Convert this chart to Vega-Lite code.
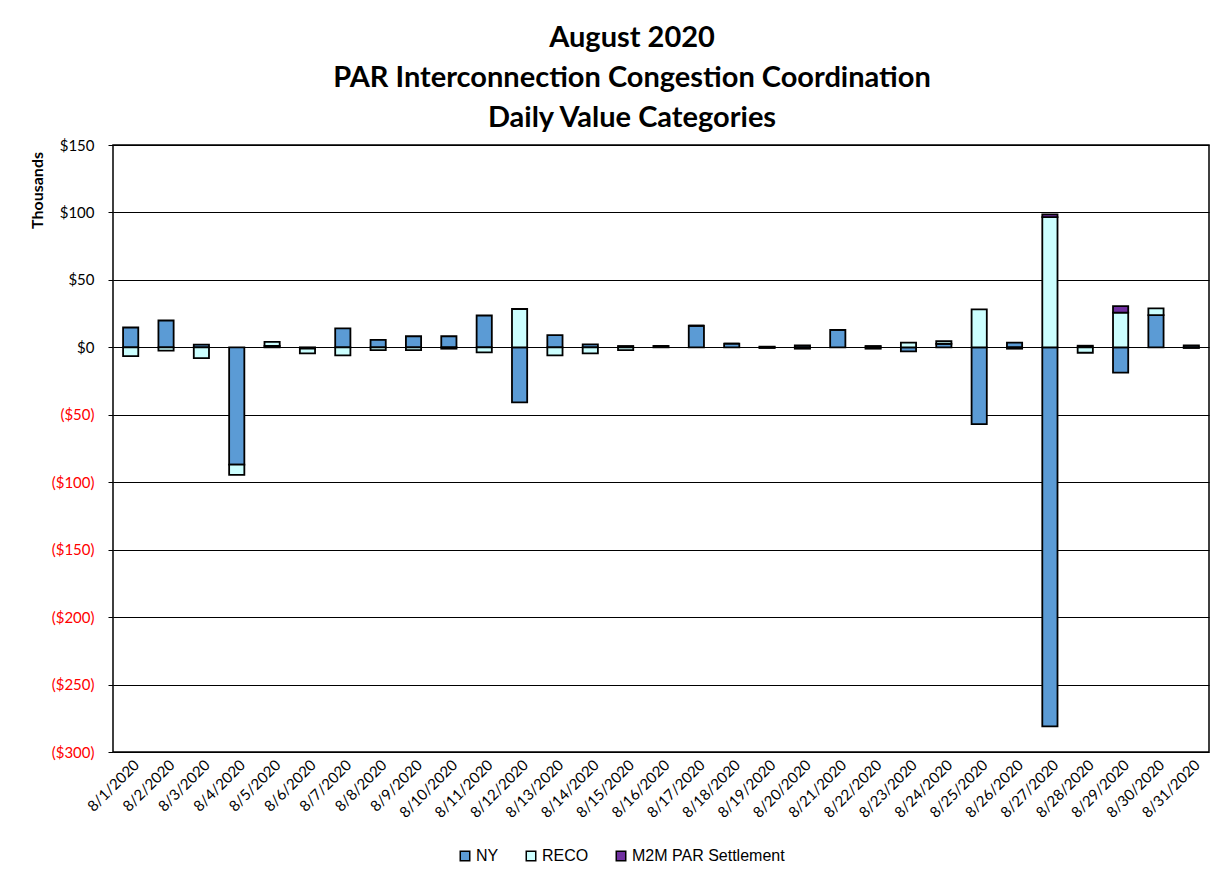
{
  "$schema": "https://vega.github.io/schema/vega-lite/v6.json",
  "autosize": {"type": "none"},
  "width": 1096,
  "height": 607,
  "padding": {"left": 113, "top": 145, "right": 13, "bottom": 126},
  "background": "white",
  "config": {
    "view": {"stroke": "#000", "strokeWidth": 1.5},
    "font": "Lato"
  },
  "title": {
    "text": ["August 2020", "PAR Interconnection Congestion Coordination", "Daily Value Categories"],
    "font": "Lato",
    "fontSize": 29,
    "fontWeight": "bold",
    "color": "#000",
    "lineHeight": 40,
    "anchor": "middle",
    "frame": "group",
    "dx": -29,
    "offset": 5
  },
  "data": {
    "values": [
      {"date": "8/1/2020", "series": "NY", "value": 14.7, "ord": 1},
      {"date": "8/1/2020", "series": "RECO", "value": -6.5, "ord": 2},
      {"date": "8/2/2020", "series": "NY", "value": 19.9, "ord": 1},
      {"date": "8/2/2020", "series": "RECO", "value": -2.5, "ord": 2},
      {"date": "8/3/2020", "series": "NY", "value": 2, "ord": 1},
      {"date": "8/3/2020", "series": "RECO", "value": -8, "ord": 2},
      {"date": "8/4/2020", "series": "NY", "value": -87, "ord": 1},
      {"date": "8/4/2020", "series": "RECO", "value": -7.5, "ord": 2},
      {"date": "8/5/2020", "series": "NY", "value": 1, "ord": 1},
      {"date": "8/5/2020", "series": "RECO", "value": 3, "ord": 2},
      {"date": "8/6/2020", "series": "NY", "value": -1, "ord": 1},
      {"date": "8/6/2020", "series": "RECO", "value": -3.5, "ord": 2},
      {"date": "8/7/2020", "series": "NY", "value": 14, "ord": 1},
      {"date": "8/7/2020", "series": "RECO", "value": -6, "ord": 2},
      {"date": "8/8/2020", "series": "NY", "value": 5.5, "ord": 1},
      {"date": "8/8/2020", "series": "RECO", "value": -2, "ord": 2},
      {"date": "8/9/2020", "series": "NY", "value": 8.2, "ord": 1},
      {"date": "8/9/2020", "series": "RECO", "value": -2, "ord": 2},
      {"date": "8/10/2020", "series": "NY", "value": 8.2, "ord": 1},
      {"date": "8/10/2020", "series": "RECO", "value": -1, "ord": 2},
      {"date": "8/11/2020", "series": "NY", "value": 23.6, "ord": 1},
      {"date": "8/11/2020", "series": "RECO", "value": -3.7, "ord": 2},
      {"date": "8/12/2020", "series": "NY", "value": -40.8, "ord": 1},
      {"date": "8/12/2020", "series": "RECO", "value": 28.4, "ord": 2},
      {"date": "8/13/2020", "series": "NY", "value": 9, "ord": 1},
      {"date": "8/13/2020", "series": "RECO", "value": -6, "ord": 2},
      {"date": "8/14/2020", "series": "NY", "value": 2.2, "ord": 1},
      {"date": "8/14/2020", "series": "RECO", "value": -4.5, "ord": 2},
      {"date": "8/15/2020", "series": "NY", "value": 1, "ord": 1},
      {"date": "8/15/2020", "series": "RECO", "value": -2, "ord": 2},
      {"date": "8/16/2020", "series": "NY", "value": 1, "ord": 1},
      {"date": "8/16/2020", "series": "RECO", "value": 0, "ord": 2},
      {"date": "8/17/2020", "series": "NY", "value": 16, "ord": 1},
      {"date": "8/17/2020", "series": "RECO", "value": 0, "ord": 2},
      {"date": "8/18/2020", "series": "NY", "value": 2.7, "ord": 1},
      {"date": "8/18/2020", "series": "RECO", "value": 0, "ord": 2},
      {"date": "8/19/2020", "series": "NY", "value": 0.5, "ord": 1},
      {"date": "8/19/2020", "series": "RECO", "value": -0.5, "ord": 2},
      {"date": "8/20/2020", "series": "NY", "value": 1.5, "ord": 1},
      {"date": "8/20/2020", "series": "RECO", "value": -1, "ord": 2},
      {"date": "8/21/2020", "series": "NY", "value": 12.9, "ord": 1},
      {"date": "8/21/2020", "series": "RECO", "value": 0, "ord": 2},
      {"date": "8/22/2020", "series": "NY", "value": 1, "ord": 1},
      {"date": "8/22/2020", "series": "RECO", "value": -1, "ord": 2},
      {"date": "8/23/2020", "series": "NY", "value": -3, "ord": 1},
      {"date": "8/23/2020", "series": "RECO", "value": 3.5, "ord": 2},
      {"date": "8/24/2020", "series": "NY", "value": 2.5, "ord": 1},
      {"date": "8/24/2020", "series": "RECO", "value": 2, "ord": 2},
      {"date": "8/25/2020", "series": "NY", "value": -56.9, "ord": 1},
      {"date": "8/25/2020", "series": "RECO", "value": 28.1, "ord": 2},
      {"date": "8/26/2020", "series": "NY", "value": 3.5, "ord": 1},
      {"date": "8/26/2020", "series": "RECO", "value": -1, "ord": 2},
      {"date": "8/27/2020", "series": "NY", "value": -281, "ord": 1},
      {"date": "8/27/2020", "series": "RECO", "value": 96.5, "ord": 2},
      {"date": "8/27/2020", "series": "M2M PAR Settlement", "value": 2, "ord": 3},
      {"date": "8/28/2020", "series": "NY", "value": 1.2, "ord": 1},
      {"date": "8/28/2020", "series": "RECO", "value": -4, "ord": 2},
      {"date": "8/29/2020", "series": "NY", "value": -18.7, "ord": 1},
      {"date": "8/29/2020", "series": "RECO", "value": 25.7, "ord": 2},
      {"date": "8/29/2020", "series": "M2M PAR Settlement", "value": 4.9, "ord": 3},
      {"date": "8/30/2020", "series": "NY", "value": 23.9, "ord": 1},
      {"date": "8/30/2020", "series": "RECO", "value": 5, "ord": 2},
      {"date": "8/31/2020", "series": "NY", "value": 1.5, "ord": 1},
      {"date": "8/31/2020", "series": "RECO", "value": -0.5, "ord": 2}
    ]
  },
  "mark": {"type": "bar", "stroke": "#000", "strokeWidth": 1.8},
  "encoding": {
    "x": {
      "field": "date",
      "type": "nominal",
      "sort": null,
      "scale": {"paddingInner": 0.57, "paddingOuter": 0.285},
      "axis": {
        "title": null,
        "labelAngle": -45,
        "labelAlign": "right",
        "labelBaseline": "middle",
        "labelFont": "Lato",
        "labelFontSize": 15,
        "labelColor": "#000",
        "labelPadding": 10,
        "labelOffset": 6,
        "ticks": false,
        "domain": false
      }
    },
    "y": {
      "field": "value",
      "type": "quantitative",
      "stack": "zero",
      "scale": {"domain": [-300, 150], "nice": false},
      "axis": {
        "values": [-300, -250, -200, -150, -100, -50, 0, 50, 100, 150],
        "labelExpr": "datum.value < 0 ? '($' + abs(datum.value) + ')' : '$' + datum.value",
        "labelColor": {"condition": {"test": "datum.value < 0", "value": "#ff0000"}, "value": "#000"},
        "labelFont": "Lato",
        "labelFontSize": 15,
        "labelPadding": 14,
        "tickSize": 5,
        "tickColor": "#000",
        "domain": false,
        "grid": true,
        "gridColor": "#000",
        "gridWidth": 1.2,
        "title": "Thousands",
        "titleFont": "Lato",
        "titleFontSize": 16,
        "titleFontWeight": "bold",
        "titleColor": "#000",
        "titleAngle": -90,
        "titleAlign": "center",
        "titleBaseline": "middle",
        "titleX": -76,
        "titleY": 45
      }
    },
    "color": {
      "field": "series",
      "type": "nominal",
      "scale": {
        "domain": ["NY", "RECO", "M2M PAR Settlement"],
        "range": ["#5B9BD5", "#CCFFFF", "#7030A0"]
      },
      "legend": {
        "title": null,
        "orient": "none",
        "direction": "horizontal",
        "legendX": 344,
        "legendY": 703,
        "symbolType": "square",
        "symbolSize": 90,
        "symbolStrokeColor": "#000",
        "symbolStrokeWidth": 1.5,
        "labelFont": "Liberation Sans",
        "labelFontSize": 16,
        "labelColor": "#000",
        "labelOffset": 3,
        "columnPadding": 24
      }
    },
    "order": {"field": "ord", "type": "quantitative", "sort": "ascending"}
  }
}
